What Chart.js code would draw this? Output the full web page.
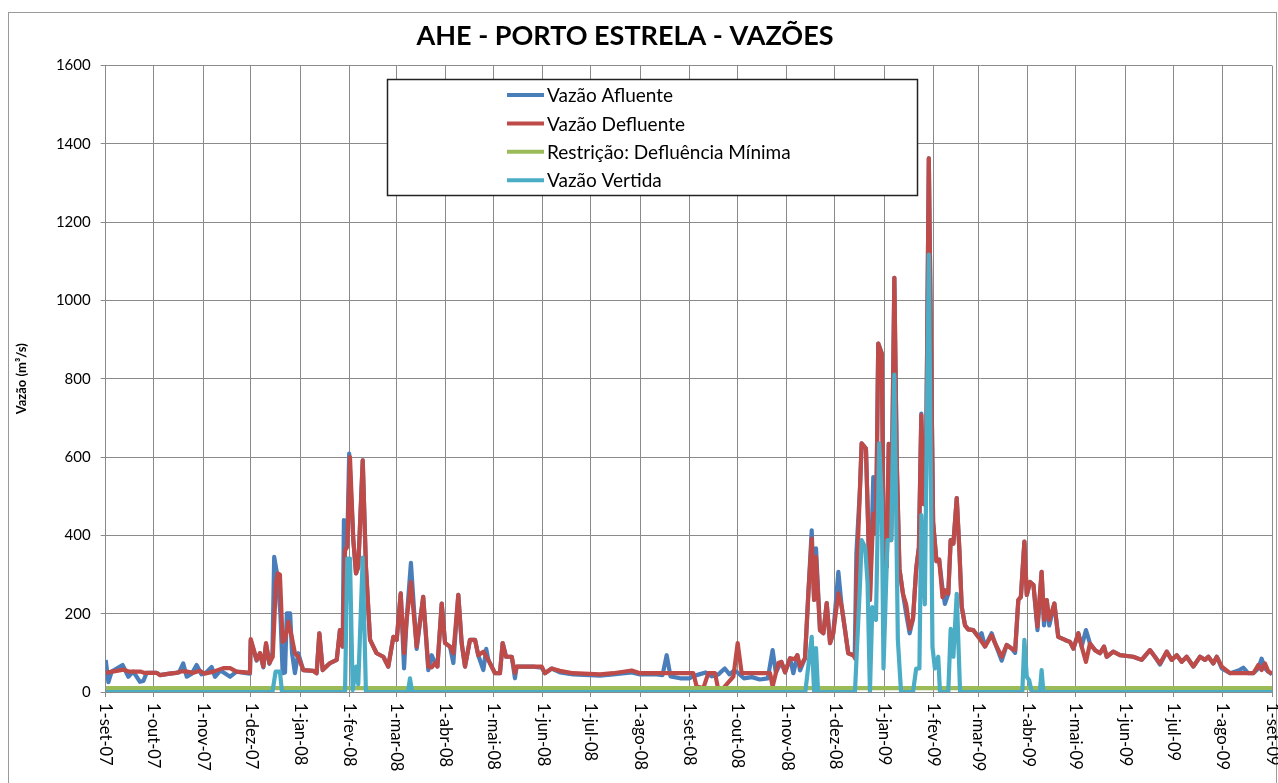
<!DOCTYPE html>
<html>
<head>
<meta charset="utf-8">
<title>AHE - PORTO ESTRELA - VAZÕES</title>
<script src="https://cdn.jsdelivr.net/npm/chart.js@4.4.1/dist/chart.umd.min.js"></script>
<style>
  html, body { margin: 0; padding: 0; background: #fff; overflow: hidden; }
  canvas { display: block; }
</style>
</head>
<body>
<canvas id="grafico" width="1278" height="783"></canvas>
<script>
// dias contados a partir de 1-set-07
const meses = ['1-set-07','1-out-07','1-nov-07','1-dez-07','1-jan-08','1-fev-08','1-mar-08','1-abr-08','1-mai-08','1-jun-08','1-jul-08','1-ago-08',
  '1-set-08','1-out-08','1-nov-08','1-dez-08','1-jan-09','1-fev-09','1-mar-09','1-abr-09','1-mai-09','1-jun-09','1-jul-09','1-ago-09','1-set-09'];
const diasMeses = [0,30,61,91,122,153,182,213,243,274,304,335,366,396,427,457,488,519,547,578,608,639,669,700,731];
const yTicks = [0,200,400,600,800,1000,1200,1400,1600];

const defDias = [0,4,7,11,15,22,24,32,34,40,44.5,48,51,55,59,62,67.5,73.7,78,82,88,90.4,
  90.9,94.6,96.7,98.8,100.5,102.6,104.7,106.7,107.8,109.2,110.9,112.4,114.5,116.6,118.6,120.7,123.8,130,132.2,133.9,136,140.6,144.8,146.8,148.5,
  150,151.4,153.1,155.2,156.9,158.3,161.1,163.1,165.7,169.8,174,177.1,180.3,182.4,184.9,187,188.6,191.3,194.9,199,202.2,204.3,206.4,207.9,
  210.6,212.7,215.8,217.9,221,223.1,225.2,228.3,231.5,233.5,236.7,239.8,244,247.1,248.8,250.9,254.5,256.5,257.6,268,273.3,275.3,279.5,284.7,
  293,309.8,318.1,329.7,334.9,345.3,368.3,370.4,374.6,377.7,381.9,384,387.1,393.4,396.1,398.6,416.4,418,421.6,423.5,425.8,428.9,432,433.5,
  435.2,438.3,440.4,442.5,444,445.2,447.7,449.8,451.9,454,456,459.2,461.3,463.4,465.4,468.6,470,470.7,472.8,473.8,476.5,478,479,481.1,482.8,
  484.2,486.4,487.7,489.5,490.8,492.3,494.3,495.8,497.5,499.7,501.7,503.9,506,508,509.7,511.2,512.7,514,515.9,517.6,518.6,520.7,522.4,524.5,
  526,528.1,529.6,531.3,533.4,535.1,536.5,538.6,540.6,543.8,546.9,551.1,555.3,557.4,561.6,564.7,567.8,570,572,573.6,575.8,577.3,579.4,581.5,
  584,586.6,588.1,589.8,591.4,594.6,597,601.3,604.4,606.5,609.6,611.7,614.4,616.9,620,623.2,625.7,627.4,631.5,635.7,644,649.3,654.5,657.6,
  660.8,665,668.1,671.3,674.4,677.5,681.7,685.9,689,691.1,694.2,696.4,699.5,704.7,719.3,722.4,724.5,726.6,728.7,731];
const defVazao = [49,52,54,57,52,52,49,49,43,47,49,53,52,49,54,47,52,61,61,52,50,49,
  135,82,99,65,125,74,90,278,303,300,128,133,179,141,99,90,56,54,48,150,56,74,82,158,116,
  362,371,600,388,303,320,592,320,133,99,90,65,141,133,252,99,184,281,116,243,65,63,74,65,
  226,125,116,99,248,125,65,133,133,94,103,82,48,48,125,90,90,48,65,65,65,48,60,54,
  48,45,48,55,48,48,48,14,10,48,48,5,10,39,125,48,48,14,74,77,50,86,84,94,
  65,86,252,392,235,345,158,150,227,125,150,252,218,158,99,94,84,294,524,635,622,405,235,456,405,
  890,865,330,320,634,388,1058,589,315,251,224,161,187,315,370,707,480,498,1363,770,434,334,338,242,
  260,251,388,379,495,360,218,170,160,158,141,116,145,125,90,120,111,107,235,243,384,248,281,273,
  167,307,184,235,184,226,141,133,128,111,150,116,77,124,107,99,116,90,103,94,90,82,107,90,
  73,103,82,94,77,90,65,90,82,90,73,90,65,48,48,69,56,73,52,48];

const aflDias = [0,1.7,3.7,6.9,10.6,14.2,17.3,21.5,23.6,25.7,32,34,40,46,48.6,50.8,54,57,60,63,66.4,68.5,72,78,82,88,90.4,
  90.9,94.6,96.7,98.8,100.5,102.6,104.5,105.6,107.5,109.5,110.9,112.4,113.5,115.6,116.8,118.6,120.7,123.8,130,132.2,133.9,136,140.6,144.8,146.8,148.5,
  149.3,151.4,152.6,155.2,156.9,158.3,161.1,163.1,165.7,169.8,174,177.1,180.3,182.4,184.9,187,188.6,191.3,194.9,199,202.2,204.3,206.4,207.9,
  210.6,212.7,215.8,217.9,221,223.1,225.2,228.3,231.5,233.5,236.7,238.5,239.8,244,247.1,248.8,250.9,254.5,256.5,257.6,268,273.3,275.3,279.5,284.7,
  293,309.8,318.1,329.7,334.9,345.3,349,351.6,354,360,366,368,372,376,380,384,388,391,394,396,400,405,410,415,418,420,423.5,425.8,428.9,431,433.5,
  435.2,438.3,440.4,442.5,444,445.2,447.7,449.8,451.9,454,456,459.2,461.3,463.4,465.4,468.6,469.5,470.5,472.8,473.8,476.5,478,479,481.1,482.8,
  484.2,486.4,487.7,489.5,490.8,492.3,494.3,495.8,497.5,499.7,501.7,503.9,506,508,509.7,511.2,512.7,514,515.9,517.6,518.6,520.7,522.4,524.5,
  526,528.1,529.6,531.3,533.4,535.1,536.5,538.6,540.6,543.8,546.9,549,551.1,555.3,557.4,561.6,564.7,567.8,570,572,573.6,575.8,577.3,579.4,581.5,
  584,586.6,588.1,589.8,591.4,594.6,597,601.3,604.4,606.5,609.6,611.7,614.4,616.9,620,623.2,625.7,627.4,631.5,635.7,644,649.3,654.5,657.6,
  660.8,665,668.1,671.3,674.4,677.5,681.7,685.9,689,691.1,694.2,696.4,699.5,704.7,710,713,716,719.3,722.4,724.5,726.6,728.7,731];
const aflVazao = [82,25,52,60,69,39,52,26,28,49,49,43,47,50,73,39,47,69,45,50,64,39,55,39,52,48,47,
  132,80,99,63,122,72,100,345,300,200,48,50,201,201,99,48,99,56,54,48,150,56,74,82,158,116,
  439,380,609,388,303,320,592,320,133,99,90,65,141,133,252,60,184,330,110,243,56,94,74,65,
  226,125,116,74,248,125,65,133,133,94,56,110,82,48,48,125,90,90,35,65,65,62,48,60,50,
  45,42,45,50,45,45,43,94,40,35,35,40,45,50,40,45,60,45,55,50,35,38,32,35,107,50,77,50,86,48,94,
  55,86,252,413,235,367,158,150,227,125,150,307,218,158,99,94,100,354,524,635,622,405,235,549,405,
  890,865,330,320,634,388,1058,589,315,251,200,150,187,315,370,711,480,498,1363,770,434,334,338,264,
  225,251,388,379,495,360,218,170,160,158,141,150,116,150,125,80,120,111,100,235,243,384,248,281,273,
  158,307,170,235,170,226,141,133,128,111,150,116,158,124,107,99,116,90,103,94,90,82,107,90,
  70,103,82,94,77,90,65,90,82,90,73,90,60,48,55,62,48,48,60,85,60,52,45];

const restDias = [0,731];
const restVazao = [10,10];

const vertDias = [0,104.5,106.5,109.2,110.5,150,151.4,153.1,154.8,157,158.3,161.1,163.1,189.5,190.7,192,
  438.5,442.5,444,445.2,446.5,469.6,472.8,473.8,476,477.5,479,480.5,482.8,484.8,486.4,487.5,490,492.3,494.3,496.5,498.5,
  506,508,510,511.2,513.4,515.9,518.2,519.7,521.8,522.9,528.1,529.6,531.3,533.4,535.5,574.5,575.8,577.3,578.8,580.4,585.5,586.6,587.7,731];
const vertVazao = [0,0,52,52,0,0,341,341,5,65,20,343,0,0,35,0,
  0,141,0,112,0,0,278,388,370,280,0,217,184,635,490,60,388,388,811,133,0,
  0,60,60,452,224,1117,115,60,90,0,0,161,90,251,0,0,133,39,30,0,0,56,0,0];

function pontos(dias, vals) {
  return dias.map((d, i) => ({ x: d, y: vals[i] }));
}

const fonte = 'Lato, "Open Sans", sans-serif';
const area = { left: 105.7, top: 65.6, right: 1272, bottom: 692 };

// fundo, borda externa, titulo, rotulos do eixo x e legenda
const desenhoExtra = {
  id: 'desenhoExtra',
  beforeDraw(chart) {
    const ctx = chart.ctx;
    ctx.save();
    ctx.fillStyle = '#fff';
    ctx.fillRect(0, 0, chart.width, chart.height);
    ctx.strokeStyle = '#9a9a9a';
    ctx.lineWidth = 1;
    ctx.strokeRect(8.5, 12.5, chart.width - 10, chart.height - 8);
    ctx.restore();
  },
  afterDraw(chart) {
    const ctx = chart.ctx;
    const xs = chart.scales.x;
    ctx.save();
    ctx.fillStyle = '#000';
    ctx.font = 'bold 27px ' + fonte;
    ctx.textAlign = 'center';
    ctx.textBaseline = 'middle';
    ctx.fillText('AHE - PORTO ESTRELA - VAZÕES', 625, 36);

    ctx.font = '16.5px ' + fonte;
    ctx.textAlign = 'left';
    meses.forEach((m, i) => {
      const px = xs.getPixelForValue(diasMeses[i]);
      ctx.save();
      ctx.translate(px, 703);
      ctx.rotate(Math.PI / 2);
      ctx.fillText(m, 0, 0);
      ctx.restore();
    });

    // legenda
    const lx = 387.5, ly = 79.5, lw = 530, lh = 116;
    ctx.fillStyle = '#fff';
    ctx.fillRect(lx, ly, lw, lh);
    ctx.strokeStyle = '#222';
    ctx.lineWidth = 1.5;
    ctx.strokeRect(lx, ly, lw, lh);
    const ordem = [3, 2, 1, 0];
    ctx.font = '19px ' + fonte;
    ctx.textBaseline = 'middle';
    ordem.forEach((k, i) => {
      const ds = chart.data.datasets[k];
      const y = 95 + i * 28.4;
      ctx.strokeStyle = ds.borderColor;
      ctx.lineWidth = 4;
      ctx.beginPath();
      ctx.moveTo(507, y);
      ctx.lineTo(544, y);
      ctx.stroke();
      ctx.fillStyle = '#000';
      ctx.fillText(ds.label, 547, y + 1);
    });
    ctx.restore();
  }
};

const ctx = document.getElementById('grafico').getContext('2d');
window.chart = new Chart(ctx, {
  type: 'line',
  data: {
    datasets: [
      { label: 'Vazão Vertida', data: pontos(vertDias, vertVazao), borderColor: '#4bacc6', order: 0 },
      { label: 'Restrição: Defluência Mínima', data: pontos(restDias, restVazao), borderColor: '#9bbb59', order: 1 },
      { label: 'Vazão Defluente', data: pontos(defDias, defVazao), borderColor: '#be4b48', order: 2 },
      { label: 'Vazão Afluente', data: pontos(aflDias, aflVazao), borderColor: '#4a7ebb', order: 3 }
    ]
  },
  options: {
    responsive: false,
    animation: false,
    parsing: false,
    layout: { padding: { left: 8, top: area.top, right: 1278 - area.right, bottom: 0 } },
    elements: {
      line: { borderWidth: 4.2, tension: 0, borderJoinStyle: 'round', fill: false },
      point: { radius: 0 }
    },
    plugins: { legend: { display: false }, title: { display: false }, tooltip: { enabled: false } },
    scales: {
      x: {
        type: 'linear',
        min: 0,
        max: 731,
        afterBuildTicks: s => { s.ticks = diasMeses.map(v => ({ value: v })); },
        afterFit: s => { s.height = 783 - area.bottom; },
        ticks: { display: false },
        grid: { color: '#8a8a8a', lineWidth: 1, tickLength: 5 },
        border: { color: '#8a8a8a' }
      },
      y: {
        min: 0,
        max: 1600,
        afterBuildTicks: s => { s.ticks = yTicks.map(v => ({ value: v })); },
        afterFit: s => { s.width = area.left - 8; },
        ticks: { color: '#000', font: { family: fonte, size: 15 }, padding: 10, callback: v => String(v) },
        grid: { color: '#8a8a8a', lineWidth: 1, tickLength: 5 },
        border: { color: '#8a8a8a' },
        title: {
          display: true,
          text: 'Vazão (m³/s)',
          color: '#000',
          font: { family: fonte, size: 13, weight: 'bold' },
          padding: { top: 6, bottom: 0 }
        }
      }
    }
  },
  plugins: [desenhoExtra]
});
</script>
</body>
</html>
